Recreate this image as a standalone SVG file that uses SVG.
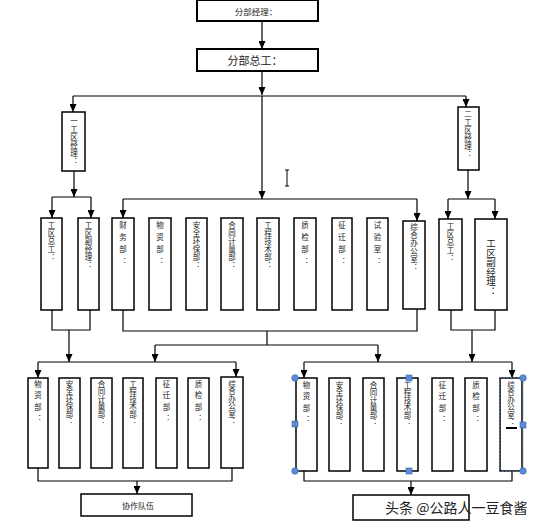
<svg xmlns="http://www.w3.org/2000/svg" width="540" height="528" viewBox="0 0 540 528">
<style>
.bx{fill:#fff;stroke:#000;stroke-width:1.5}
.bt{fill:#fff;stroke:#000;stroke-width:2}
.ln{fill:none;stroke:#000;stroke-width:1.2}
.ar{fill:none;stroke:#000;stroke-width:1.2;marker-end:url(#ah)}
text{font-family:"Noto Sans CJK SC","Liberation Sans",sans-serif;fill:#222}
.v{writing-mode:vertical-rl;font-size:7.5px;letter-spacing:0.6px}
.v3{writing-mode:vertical-rl;font-size:7.5px;letter-spacing:4.5px}
.h{text-anchor:middle;dominant-baseline:central}
.hd{fill:#5b8bd6;stroke:#3a6ab0;stroke-width:0.6}
</style>
<defs>
<marker id="ah" markerUnits="userSpaceOnUse" markerWidth="8" markerHeight="7" refX="8" refY="3.5" orient="auto">
<path d="M0,0 L8,3.5 L0,7 z" fill="#000"/>
</marker>
</defs>
<rect width="540" height="528" fill="#fff"/>

<g id="connectors">
<path class="ar" d="M262,21 V49"/>
<path class="ar" d="M262,71 V95"/>
<path class="ln" d="M73,96 H466"/>
<path class="ar" d="M262,96 V199"/>
<path class="ar" d="M73,96 V112"/>
<path class="ar" d="M466,96 V107"/>
<path class="ar" d="M74,171 V197"/>
<path class="ln" d="M52,197 H91"/>
<path class="ar" d="M52,197 V218"/>
<path class="ar" d="M91,197 V218"/>
<path class="ar" d="M468,170 V199"/>
<path class="ln" d="M448,199 H495"/>
<path class="ar" d="M448,199 V219"/>
<path class="ar" d="M495,199 V219"/>
<path class="ln" d="M123,199 H417"/>
<path class="ar" d="M123,199 V218"/>
<path class="ar" d="M417,199 V221"/>
<path class="ln" d="M52,310 V330 H90 V310"/>
<path class="ar" d="M69,330 V362"/>
<path class="ln" d="M123,310 V331 H417 V309"/>
<path class="ln" d="M267,331 V345"/>
<path class="ln" d="M155,345 H378"/>
<path class="ar" d="M155,345 V362"/>
<path class="ar" d="M378,345 V362"/>
<path class="ln" d="M451,310 V330 H495 V310"/>
<path class="ar" d="M472,330 V362"/>
<path class="ln" d="M38,362 H236"/>
<path class="ar" d="M38,362 V378"/>
<path class="ar" d="M236,362 V377"/>
<path class="ln" d="M304,362 H512"/>
<path class="ar" d="M304,362 V378"/>
<path class="ar" d="M512,362 V378"/>
<path class="ln" d="M38,468 V481 H232 V468"/>
<path class="ar" d="M137,481 V494"/>
<path class="ln" d="M304,471 V481 H512 V471"/>
<path class="ar" d="M411,481 V495"/>
</g>

<g id="n-fbjl"><rect class="bt" x="197" y="0" width="121" height="21"/><text class="h" x="256" y="11" font-size="8.5">分部经理：</text></g>
<g id="n-fbzg"><rect class="bt" x="197" y="49" width="121" height="22"/><text class="h" x="255" y="60" font-size="11">分部总工：</text></g>
<g id="n-yq"><rect class="bx" x="62" y="112" width="23" height="59"/><text class="v" x="74" y="117">一工区经理：</text></g>
<g id="n-eq"><rect class="bx" x="458" y="107" width="21" height="63"/><text class="v" x="468" y="110">二工区经理：</text></g>

<g id="r1"><rect class="bx" x="41" y="218" width="21" height="92"/><text class="v" x="51.5" y="221">工区总工：</text></g>
<g id="r2"><rect class="bx" x="78" y="218" width="21" height="92"/><text class="v" x="88.5" y="221">工区副经理：</text></g>
<g id="r3"><rect class="bx" x="112" y="218" width="22" height="92"/><text class="v3" x="123" y="221">财务部：</text></g>
<g id="r4"><rect class="bx" x="149" y="218" width="22" height="92"/><text class="v3" x="160" y="221">物资部：</text></g>
<g id="r5"><rect class="bx" x="186" y="218" width="21" height="92"/><text class="v" x="196.5" y="221">安全环保部：</text></g>
<g id="r6"><rect class="bx" x="221" y="218" width="22" height="92"/><text class="v" x="232" y="221">合同计量部：</text></g>
<g id="r7"><rect class="bx" x="257" y="218" width="22" height="92"/><text class="v" x="268" y="221">工程技术部：</text></g>
<g id="r8"><rect class="bx" x="294" y="218" width="22" height="92"/><text class="v3" x="305" y="221">质检部：</text></g>
<g id="r9"><rect class="bx" x="332" y="218" width="20" height="92"/><text class="v3" x="342" y="221">征迁部：</text></g>
<g id="r10"><rect class="bx" x="367" y="218" width="21" height="92"/><text class="v3" x="377.5" y="221">试验室：</text></g>
<g id="r11"><rect class="bx" x="403" y="221" width="22" height="88"/><text class="v" x="414" y="223">综合办公室：</text></g>
<g id="r12"><rect class="bx" x="439" y="219" width="23" height="91"/><text class="v" x="450.5" y="222">工区总工：</text></g>
<g id="r13"><rect class="bx" x="475" y="219" width="32" height="91"/><text class="v" x="491" y="239" style="font-size:9.5px;letter-spacing:0">工区副经理：</text></g>

<g id="bl1"><rect class="bx" x="28" y="378" width="20" height="90"/><text class="v3" x="38" y="380" style="letter-spacing:4px">物资部：</text></g>
<g id="bl2"><rect class="bx" x="59" y="378" width="21" height="90"/><text class="v" x="69.5" y="380" style="letter-spacing:0">安全环保部：</text></g>
<g id="bl3"><rect class="bx" x="91" y="378" width="21" height="90"/><text class="v" x="101.5" y="380" style="letter-spacing:0">合同计量部：</text></g>
<g id="bl4"><rect class="bx" x="123" y="378" width="20" height="90"/><text class="v" x="133" y="380" style="letter-spacing:0">工程技术部：</text></g>
<g id="bl5"><rect class="bx" x="156" y="378" width="21" height="90"/><text class="v3" x="166.5" y="380" style="letter-spacing:4px">征迁部：</text></g>
<g id="bl6"><rect class="bx" x="188" y="378" width="21" height="90"/><text class="v3" x="198.5" y="380" style="letter-spacing:4px">质检部：</text></g>
<g id="bl7"><rect class="bx" x="221" y="377" width="22" height="91"/><text class="v" x="232" y="380" style="letter-spacing:0">综合办公室：</text></g>
<g id="n-xz"><rect class="bx" x="81" y="494" width="111" height="22"/><text class="h" x="138" y="505" font-size="8">协作队伍</text></g>

<g id="br1"><rect class="bx" x="296" y="378" width="21" height="93"/><text class="v3" x="306.5" y="381" style="letter-spacing:4px">物资部：</text></g>
<g id="br2"><rect class="bx" x="329" y="378" width="21" height="93"/><text class="v" x="339.5" y="381" style="letter-spacing:0">安全环保部：</text></g>
<g id="br3"><rect class="bx" x="363" y="378" width="21" height="93"/><text class="v" x="373.5" y="381" style="letter-spacing:0">合同计量部：</text></g>
<g id="br4"><rect class="bx" x="397" y="378" width="21" height="93"/><text class="v" x="407.5" y="381" style="letter-spacing:0">工程技术部：</text></g>
<g id="br5"><rect class="bx" x="432" y="378" width="21" height="93"/><text class="v3" x="442.5" y="381" style="letter-spacing:4px">征迁部：</text></g>
<g id="br6"><rect class="bx" x="465" y="378" width="22" height="93"/><text class="v3" x="476" y="381" style="letter-spacing:4px">质检部：</text></g>
<g id="br7"><rect class="bx" x="500" y="378" width="22" height="93"/><text class="v" x="511" y="381" style="letter-spacing:0">综合办公室：</text><rect x="506" y="427" width="11" height="2" fill="#000"/></g>
<g id="n-xz2"><rect class="bx" x="353" y="495" width="116" height="25"/><text x="385" y="513" font-size="14" fill="#333">头条 @公路人一豆食酱</text></g>

<g id="selection">
<rect x="499.5" y="377.5" width="23.5" height="94" fill="none" stroke="#6a86b0" stroke-width="0.8" stroke-dasharray="2,1.5"/>
<circle class="hd" cx="295" cy="378" r="3.3"/>
<circle class="hd" cx="295" cy="471" r="3.3"/>
<circle class="hd" cx="523" cy="378" r="3.3"/>
<circle class="hd" cx="523" cy="471" r="3.3"/>
<rect class="hd" x="292" y="421" width="6" height="6"/>
<rect class="hd" x="406" y="375" width="6" height="6"/>
<rect class="hd" x="406" y="468" width="6" height="6"/>
<rect class="hd" x="520" y="422" width="6" height="6"/>
</g>
<path d="M285,170 H289 M287,170 V186 M285,186 H289" fill="none" stroke="#000" stroke-width="1"/>
</svg>
